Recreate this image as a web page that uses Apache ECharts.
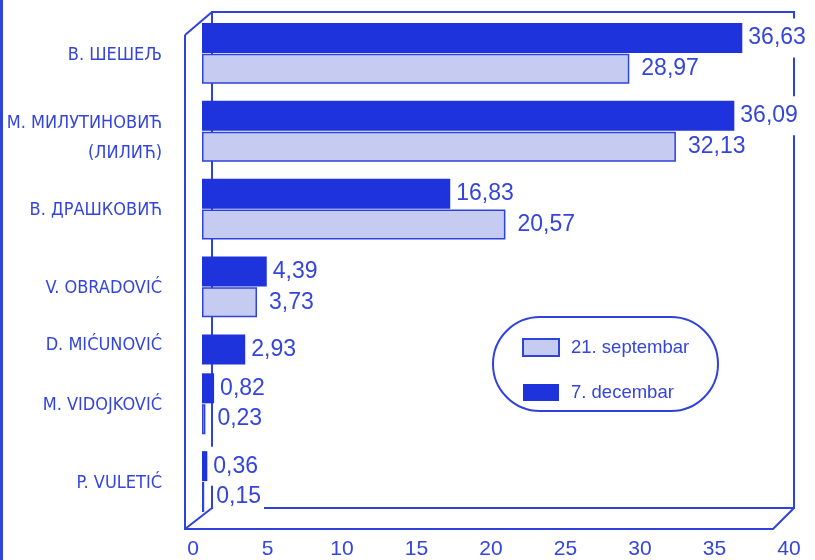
<!DOCTYPE html>
<html>
<head>
<meta charset="utf-8">
<script src="https://cdn.jsdelivr.net/npm/echarts@6/dist/echarts.min.js"></script>
<style>
html,body{margin:0;padding:0;background:#fff;}
#c{width:815px;height:560px;}
</style>
</head>
<body>
<div id="c"></div>
<script>
const categories = ['В. ШЕШЕЉ', 'М. МИЛУТИНОВИЋ\n(ЛИЛИЋ)', 'В. ДРАШКОВИЋ', 'V. OBRADOVIĆ', 'D. MIĆUNOVIĆ', 'M. VIDOJKOVIĆ', 'P. VULETIĆ'];
const septembar = [28.97, 32.13, 20.57, 3.73, null, 0.23, 0.15];
const decembar = [36.63, 36.09, 16.83, 4.39, 2.93, 0.82, 0.36];
const seriesNames = ['21. septembar', '7. decembar'];
const xMin = 0, xMax = 40, xStep = 5;

const BLUE = '#2f42dc';
const DARK = '#1f33dc';
const LIGHT = '#c6ccf1';
const TXT = '#3345dc';
const NARROW = "'Liberation Sans Narrow','Arial Narrow','DejaVu Sans Condensed',sans-serif";
const SANS = "'Liberation Sans',Arial,sans-serif";

// Build one row per bar (a group = dark row followed by light row)
const rowIds = [], rowLabels = [], decRows = [], sepRows = [];
categories.forEach((name, i) => {
  const paired = septembar[i] != null;
  const lines = name.split('\n');
  let lab;
  if (paired) {
    lab = lines.length > 1
      ? '{sp2| }\n' + lines.map(l => '{n|' + l + '}').join('\n')
      : '{sp| }\n{s|' + lines[0] + '}';
  } else {
    lab = '{s|' + lines[0] + '}';
  }
  rowIds.push('r' + rowIds.length); rowLabels.push(lab);
  decRows.push(decembar[i]); sepRows.push(null);
  if (paired) {
    rowIds.push('r' + rowIds.length); rowLabels.push('');
    decRows.push(null); sepRows.push(septembar[i]);
  }
});

const fmt = v => (v.value == null ? '' : v.value.toFixed(2).replace('.', ','));
const lab = { fontFamily: NARROW, fontSize: 18, color: TXT, align: 'right' };

const chart = echarts.init(document.getElementById('c'), null, { renderer: 'canvas' });
const line = (pts) => ({ type: 'polyline', z: 0, shape: { points: pts }, style: { stroke: BLUE, lineWidth: 2, fill: null } });

chart.setOption({
  backgroundColor: '#fff',
  animation: false,
  grid: [
    { left: 202, top: 14.5, width: 590, height: 506, containLabel: false, outerBoundsMode: 'none' },
    { left: 193, top: 14.5, width: 596, height: 506, containLabel: false, outerBoundsMode: 'none' }
  ],
  xAxis: [
    { type: 'value', gridIndex: 0, min: xMin, max: xMax, interval: xStep, show: false },
    { type: 'value', gridIndex: 1, min: xMin, max: xMax, interval: xStep,
      axisLine: { show: false }, axisTick: { show: false }, splitLine: { show: false },
      axisLabel: { margin: 18, fontFamily: SANS, fontSize: 21, color: TXT } }
  ],
  yAxis: [
    { type: 'category', gridIndex: 0, inverse: true, data: rowIds,
      axisLine: { show: false }, axisTick: { show: false }, splitLine: { show: false },
      axisLabel: {
        interval: 0, margin: 40, overflow: 'none',
        formatter: (v, i) => rowLabels[i],
        rich: {
          sp: Object.assign({}, lab, { lineHeight: 42, fontSize: 4 }),
          sp2: Object.assign({}, lab, { lineHeight: 54, fontSize: 4 }),
          n: Object.assign({}, lab, { lineHeight: 30 }),
          s: Object.assign({}, lab, { lineHeight: 24 })
        }
      } },
    { type: 'category', gridIndex: 1, show: false, data: rowIds }
  ],
  legend: {
    orient: 'vertical', left: 517, top: 333, itemWidth: 36, itemHeight: 17, itemGap: 26,
    icon: 'rect', data: seriesNames,
    textStyle: { fontFamily: SANS, fontSize: 18.5, color: TXT, padding: [0, 0, 0, 7] }
  },
  graphic: [
    { type: 'line', z: 0, shape: { x1: 1.5, y1: 0, x2: 1.5, y2: 560 }, style: { stroke: BLUE, lineWidth: 3 } },
    line([[185, 35], [185, 529], [773, 529], [794, 508]]),
    line([[185, 35], [212, 12]]),
    line([[185, 529], [212, 508]]),
    line([[212, 508], [212, 12], [794, 12], [794, 508], [212, 508]]),
    { type: 'rect', z: 0, shape: { x: 493, y: 317, width: 225, height: 94, r: 47 },
      style: { stroke: BLUE, lineWidth: 2, fill: '#fff' } }
  ],
  series: [
    { name: seriesNames[0], type: 'bar', xAxisIndex: 0, yAxisIndex: 0, data: sepRows,
      barWidth: 30, barGap: '-73%', z: 4,
      itemStyle: { color: LIGHT, borderColor: BLUE, borderWidth: 1.5 },
      label: { show: true, position: 'right', distance: 9, formatter: fmt,
        fontFamily: SANS, fontSize: 23, color: TXT, backgroundColor: '#fff', padding: [1, 3] } },
    { name: seriesNames[1], type: 'bar', xAxisIndex: 0, yAxisIndex: 0, data: decRows,
      barWidth: 30, z: 3,
      itemStyle: { color: DARK },
      label: { show: true, position: 'right', distance: 3, formatter: fmt,
        fontFamily: SANS, fontSize: 23, color: TXT, backgroundColor: '#fff', padding: [14, 3, 2, 3] } }
  ]
});
</script>
</body>
</html>
